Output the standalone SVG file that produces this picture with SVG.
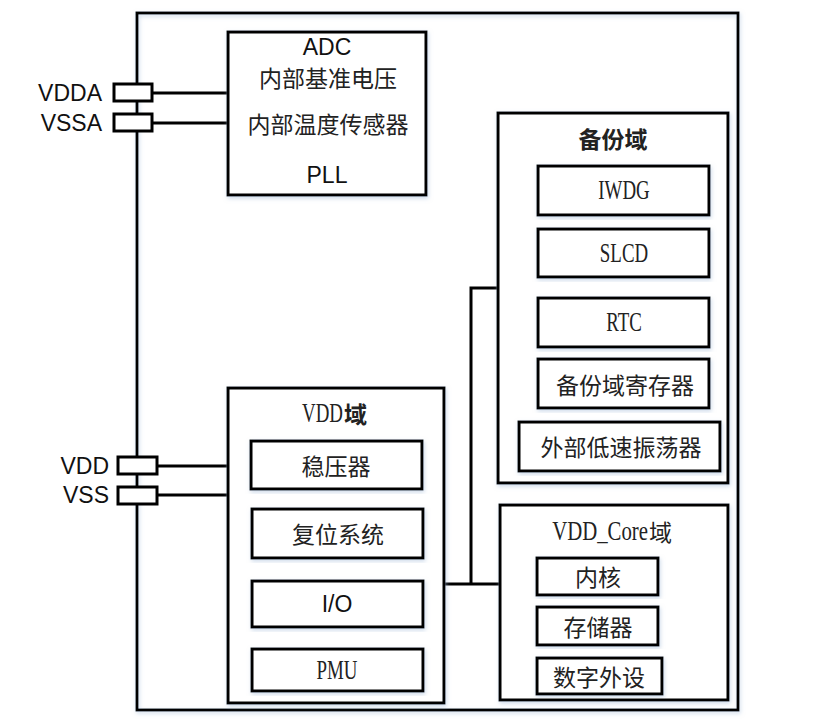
<svg xmlns="http://www.w3.org/2000/svg" width="819" height="720" viewBox="0 0 819 720">
<defs>
<filter id="sh" x="-10%" y="-10%" width="120%" height="120%">
<feDropShadow dx="1" dy="2" stdDeviation="2" flood-color="#9fb8d6" flood-opacity="0.5"/>
</filter>
</defs>
<style>
.box{fill:#fff;stroke:#000;stroke-width:3;filter:url(#sh)}
.ln{fill:none;stroke:#000;stroke-width:3}
.pin{fill:#fff;stroke:#000;stroke-width:3}
.sans{font-family:"Liberation Sans",Arial,sans-serif;font-size:23px;fill:#111}
.cjk{font-family:"Noto Sans CJK SC","Noto Sans",sans-serif;font-size:23px;fill:#222}
.ser{font-family:"Liberation Serif","Noto Sans CJK SC",serif;font-size:27px;fill:#222}
.b{font-weight:bold}
text{dominant-baseline:central}
</style>
<rect width="819" height="720" fill="#fff"/>
<g id="chip"><rect x="137" y="13" width="601" height="697" class="ln" filter="url(#sh)"/></g>

<g id="connectors">
<line x1="152" y1="93" x2="228" y2="93" class="ln"/>
<line x1="152" y1="123" x2="228" y2="123" class="ln"/>
<line x1="157" y1="466" x2="228" y2="466" class="ln"/>
<line x1="157" y1="495" x2="228" y2="495" class="ln"/>
<polyline points="444,584 500,584" class="ln"/>
<polyline points="471,584 471,288 498,288" class="ln"/>
</g>

<g id="pin-vdda"><rect x="114" y="84" width="38" height="17" class="pin"/><text x="102" y="93" text-anchor="end" class="sans">VDDA</text></g>
<g id="pin-vssa"><rect x="114" y="114" width="38" height="17" class="pin"/><text x="102" y="123" text-anchor="end" class="sans">VSSA</text></g>
<g id="pin-vdd"><rect x="118" y="457" width="39" height="17" class="pin"/><text x="109" y="466" text-anchor="end" class="sans">VDD</text></g>
<g id="pin-vss"><rect x="118" y="487" width="39" height="17" class="pin"/><text x="109" y="495" text-anchor="end" class="sans">VSS</text></g>

<g id="adc">
<rect x="228" y="32" width="198" height="163" class="box"/>
<text x="327" y="47" text-anchor="middle" class="sans">ADC</text>
<text x="328" y="77" text-anchor="middle" class="cjk">内部基准电压</text>
<text x="328" y="123" text-anchor="middle" class="cjk">内部温度传感器</text>
<text x="327" y="175" text-anchor="middle" class="sans">PLL</text>
</g>

<g id="backup">
<rect x="498" y="113" width="230" height="370" class="box"/>
<text x="613" y="138" text-anchor="middle" class="cjk b">备份域</text>
</g>
<g id="iwdg"><rect x="538" y="166" width="171" height="49" class="box"/><text transform="translate(624,190) scale(0.7,1)" text-anchor="middle" class="ser">IWDG</text></g>
<g id="slcd"><rect x="538" y="229" width="171" height="48" class="box"/><text transform="translate(624,253) scale(0.7,1)" text-anchor="middle" class="ser">SLCD</text></g>
<g id="rtc"><rect x="538" y="298" width="171" height="49" class="box"/><text transform="translate(624,322) scale(0.7,1)" text-anchor="middle" class="ser">RTC</text></g>
<g id="bkreg"><rect x="538" y="359" width="171" height="49" class="box"/><text x="625" y="384" text-anchor="middle" class="cjk">备份域寄存器</text></g>
<g id="lse"><rect x="519" y="422" width="201" height="49" class="box"/><text x="621" y="446" text-anchor="middle" class="cjk">外部低速振荡器</text></g>

<g id="vdd-domain">
<rect x="228" y="388" width="216" height="315" class="box"/>
<text transform="translate(343,413) scale(0.7,1)" text-anchor="end" class="ser">VDD</text>
<text x="344" y="413" class="cjk b">域</text>
</g>
<g id="regulator"><rect x="251" y="441" width="171" height="48" class="box"/><text x="336" y="465" text-anchor="middle" class="cjk">稳压器</text></g>
<g id="reset"><rect x="252" y="509" width="171" height="49" class="box"/><text x="338" y="533" text-anchor="middle" class="cjk">复位系统</text></g>
<g id="io"><rect x="252" y="581" width="171" height="46" class="box"/><text x="337" y="604" text-anchor="middle" class="sans">I/O</text></g>
<g id="pmu"><rect x="252" y="649" width="171" height="42" class="box"/><text transform="translate(337,670) scale(0.7,1)" text-anchor="middle" class="ser">PMU</text></g>

<g id="core-domain">
<rect x="500" y="505" width="228" height="195" class="box"/>
<text transform="translate(648,531) scale(0.77,1)" text-anchor="end" class="ser">VDD_Core</text>
<text x="649" y="531" class="cjk">域</text>
</g>
<g id="core"><rect x="537" y="558" width="121" height="37" class="box"/><text x="598" y="576" text-anchor="middle" class="cjk">内核</text></g>
<g id="memory"><rect x="537" y="607" width="121" height="38" class="box"/><text x="598" y="626" text-anchor="middle" class="cjk">存储器</text></g>
<g id="periph"><rect x="537" y="658" width="125" height="36" class="box"/><text x="599" y="676" text-anchor="middle" class="cjk">数字外设</text></g>
</svg>
